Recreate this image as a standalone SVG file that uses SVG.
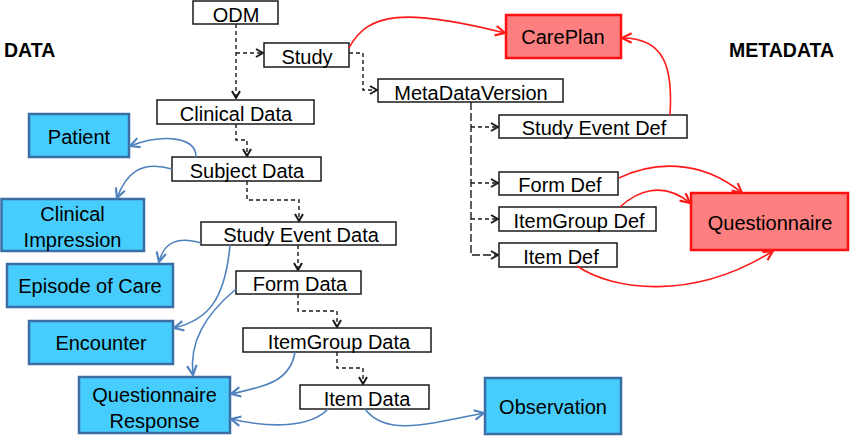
<svg xmlns="http://www.w3.org/2000/svg" width="850" height="436" viewBox="0 0 850 436">
<style>
text{font-family:"Liberation Sans",Arial,sans-serif;font-size:20px;fill:#000;text-anchor:middle}
.w{fill:#fff;stroke:#1a1a1a;stroke-width:1.5}
.b{fill:#47cdfd;stroke:#3b6ea5;stroke-width:2.5}
.r{fill:#fe7f7f;stroke:#fe1010;stroke-width:2.5}
.title{font-weight:bold;font-size:19.5px;text-anchor:start}
.d{fill:none;stroke:#1a1a1a;stroke-width:1.4;stroke-dasharray:4 3}
.dl{fill:none;stroke:#1a1a1a;stroke-width:1.4;stroke-dasharray:8 3}
.bl{fill:none;stroke:#4f81bd;stroke-width:1.6}
.rl{fill:none;stroke:#ff1a1a;stroke-width:1.6}
</style>
<defs>
<marker id="ak" markerUnits="userSpaceOnUse" viewBox="0 0 10 10" refX="9" refY="5" markerWidth="10" markerHeight="10" orient="auto">
<path d="M2,1 L9,5 L2,9" fill="none" stroke="#1a1a1a" stroke-width="2"/>
</marker>
<marker id="ab" markerUnits="userSpaceOnUse" viewBox="0 0 10 10" refX="9" refY="5" markerWidth="12" markerHeight="12" orient="auto">
<path d="M1,1 L9,5 L1,9" fill="none" stroke="#4f81bd" stroke-width="1.8"/>
</marker>
<marker id="ar" markerUnits="userSpaceOnUse" viewBox="0 0 10 10" refX="9" refY="5" markerWidth="12" markerHeight="12" orient="auto">
<path d="M1,1 L9,5 L1,9" fill="none" stroke="#ff1a1a" stroke-width="1.8"/>
</marker>
</defs>
<rect width="850" height="436" fill="#fff"/>
<text class="title" x="4" y="57">DATA</text>
<text class="title" x="729" y="57">METADATA</text>

<g id="odm"><rect class="w" x="193" y="1" width="85" height="23"/><text x="236" y="22">ODM</text></g>
<g id="study"><rect class="w" x="264" y="43" width="85" height="24"/><text x="307" y="64">Study</text></g>
<g id="metadataversion"><rect class="w" x="378" y="79" width="185" height="23"/><text x="471" y="100">MetaDataVersion</text></g>
<g id="clinical-data"><rect class="w" x="157" y="100" width="157" height="24"/><text x="236" y="121">Clinical Data</text></g>
<g id="subject-data"><rect class="w" x="172" y="157" width="149" height="24"/><text x="247" y="178">Subject Data</text></g>
<g id="study-event-data"><rect class="w" x="201" y="222" width="195" height="23"/><text x="301" y="242">Study Event Data</text></g>
<g id="form-data"><rect class="w" x="236" y="271" width="125" height="23"/><text x="300" y="291">Form Data</text></g>
<g id="itemgroup-data"><rect class="w" x="243" y="328" width="188" height="24"/><text x="339" y="349">ItemGroup Data</text></g>
<g id="item-data"><rect class="w" x="300" y="385" width="129" height="24"/><text x="367" y="406">Item Data</text></g>

<g id="study-event-def"><rect class="w" x="499" y="115" width="188" height="23"/><text x="594" y="135">Study Event Def</text></g>
<g id="form-def"><rect class="w" x="499" y="172" width="119" height="23"/><text x="560" y="192">Form Def</text></g>
<g id="itemgroup-def"><rect class="w" x="499" y="207" width="157" height="24"/><text x="579" y="228">ItemGroup Def</text></g>
<g id="item-def"><rect class="w" x="499" y="243" width="118" height="24"/><text x="561" y="264">Item Def</text></g>

<g id="careplan"><rect class="r" x="506" y="15" width="115" height="43"/><text x="563" y="44">CarePlan</text></g>
<g id="questionnaire"><rect class="r" x="691" y="193" width="157" height="57"/><text x="770" y="230">Questionnaire</text></g>

<g id="patient"><rect class="b" x="29" y="114" width="100" height="43"/><text x="79" y="144">Patient</text></g>
<g id="clinical-impression"><rect class="b" x="1.5" y="199" width="142.5" height="52"/><text x="72.5" y="221">Clinical</text><text x="72.5" y="247">Impression</text></g>
<g id="episode-of-care"><rect class="b" x="7" y="264" width="166" height="43"/><text x="90" y="293">Episode of Care</text></g>
<g id="encounter"><rect class="b" x="29" y="321" width="144" height="43"/><text x="101" y="350">Encounter</text></g>
<g id="questionnaire-response"><rect class="b" x="79" y="377" width="151" height="56"/><text x="154.5" y="402">Questionnaire</text><text x="154.5" y="428">Response</text></g>
<g id="observation"><rect class="b" x="485" y="378" width="136" height="56"/><text x="553" y="414">Observation</text></g>

<g id="connectors">
<path class="d" d="M236,24 V98" marker-end="url(#ak)"/>
<path class="d" d="M236,53 H263" marker-end="url(#ak)"/>
<path class="d" d="M349,53 H363 V90 H377" marker-end="url(#ak)"/>
<path class="d" d="M236,124 V140 H247 V156" marker-end="url(#ak)"/>
<path class="d" d="M247,181 V200 H299 V221" marker-end="url(#ak)"/>
<path class="d" d="M298,245 V270" marker-end="url(#ak)"/>
<path class="d" d="M298,294 V311 H337 V327" marker-end="url(#ak)"/>
<path class="d" d="M337,352 V368 H363 V384" marker-end="url(#ak)"/>
<path class="dl" d="M471,102 V255 H498" marker-end="url(#ak)"/>
<path class="d" d="M471,127 H498" marker-end="url(#ak)"/>
<path class="d" d="M471,183 H498" marker-end="url(#ak)"/>
<path class="d" d="M471,219 H498" marker-end="url(#ak)"/>

<path class="rl" d="M349,48 C368,12 405,8 505,33" marker-end="url(#ar)"/>
<path class="rl" d="M670,115 C673,68 665,38 622,38" marker-end="url(#ar)"/>
<path class="rl" d="M619,178 C652,162 700,158 742,193" marker-end="url(#ar)"/>
<path class="rl" d="M620,207 C636,192 662,180 690,203" marker-end="url(#ar)"/>
<path class="rl" d="M577,266 C612,290 692,302 773,251" marker-end="url(#ar)"/>

<path class="bl" d="M196,157 C196,136 162,134 130,146" marker-end="url(#ab)"/>
<path class="bl" d="M172,169 C140,160 126,174 117,198" marker-end="url(#ab)"/>
<path class="bl" d="M201,243 C178,236 164,242 159,262" marker-end="url(#ab)"/>
<path class="bl" d="M230,245 C225,300 208,320 174,328" marker-end="url(#ab)"/>
<path class="bl" d="M236,289 C205,315 189,342 193,375" marker-end="url(#ab)"/>
<path class="bl" d="M295,352 C290,383 262,387 231,394" marker-end="url(#ab)"/>
<path class="bl" d="M328,409 C310,428 270,428 231,419" marker-end="url(#ab)"/>
<path class="bl" d="M365,409 C385,436 425,425 484,413" marker-end="url(#ab)"/>
</g>
</svg>
